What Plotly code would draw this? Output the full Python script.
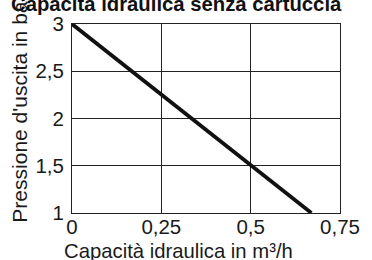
import plotly.graph_objects as go

flow = [0, 0.25, 0.5, 0.67]
pressure = [3, 2.25, 1.5, 1.0]

title_text = "Capacità idraulica senza cartuccia"
x_title = "Capacità idraulica in m³/h"
y_title = "Pressione d'uscita in bar"

font_family = "Liberation Sans, Arial, sans-serif"

fig = go.Figure()
fig.add_trace(go.Scatter(x=flow, y=pressure, mode="lines",
                         line=dict(color="#111111", width=3.8),
                         hoverinfo="skip", showlegend=False))

fig.update_layout(
    width=372, height=260,
    margin=dict(l=72, r=23, t=23, b=47),
    paper_bgcolor="white", plot_bgcolor="white",
    separators=",.",
    font=dict(family=font_family, size=20, color="#1a1a1a"),
    showlegend=False,
)
fig.update_xaxes(range=[0, 0.75], dtick=0.25, tick0=0,
                 showgrid=True, gridcolor="#222222", gridwidth=1,
                 showline=True, linecolor="#222222", linewidth=1, mirror=True,
                 zeroline=False, ticks="", ticklabelstandoff=-5,
                 tickfont=dict(size=20.5))
fig.update_yaxes(range=[1, 3], dtick=0.5, tick0=1,
                 showgrid=True, gridcolor="#222222", gridwidth=1,
                 showline=True, linecolor="#222222", linewidth=1, mirror=True,
                 zeroline=False, ticks="", ticklabelstandoff=3,
                 tickfont=dict(size=20.5))

fig.add_annotation(text="<b>" + title_text + "</b>", xref="paper", yref="paper",
                   x=0.39, y=1.036, xanchor="center", yanchor="bottom",
                   showarrow=False, font=dict(size=20.3, color="#111111"))
fig.add_annotation(text=x_title, xref="paper", yref="paper",
                   x=0.397, y=-0.2, xanchor="center", yanchor="middle",
                   showarrow=False, font=dict(size=20.3))
fig.add_annotation(text=y_title, xref="paper", yref="paper",
                   x=-0.195, y=-0.063, xanchor="center", yanchor="bottom",
                   textangle=-90, showarrow=False, font=dict(size=21))

fig.write_html("out.html", config={"displayModeBar": False},
               post_script="document.body.style.margin='0';document.body.style.overflow='hidden';")
